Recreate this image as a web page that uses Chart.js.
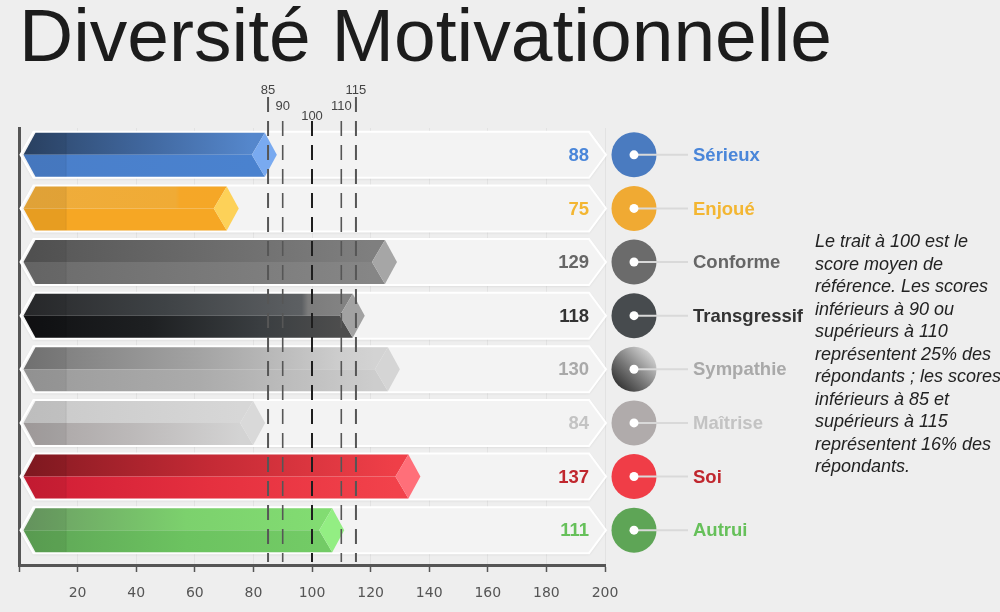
<!DOCTYPE html>
<html>
<head>
<meta charset="utf-8">
<script src="https://cdn.jsdelivr.net/npm/chart.js@4.4.1/dist/chart.umd.min.js"></script>
<style>
  html, body { margin: 0; padding: 0; background: #eeeeee; width: 1000px; height: 612px; overflow: hidden; }
  #wrap { position: relative; width: 1000px; height: 612px; }
  #chart { position: absolute; left: 0; top: 0; }
  h1 { position: absolute; left: 19px; top: -2px; margin: 0; font: 400 75px/75px "Liberation Sans", Arial, sans-serif; color: #1c1c1c; white-space: nowrap; }
  #note { position: absolute; left: 815px; top: 230px; font: italic 18px/22.5px "Liberation Sans", Arial, sans-serif; color: #222; white-space: nowrap; }
</style>
</head>
<body>
<div id="wrap">
  <canvas id="chart" width="1000" height="612"></canvas>
  <h1>Diversité Motivationnelle</h1>
  <div id="note">Le trait à 100 est le<br>score moyen de<br>référence. Les scores<br>inférieurs à 90 ou<br>supérieurs à 110<br>représentent 25% des<br>répondants ; les scores<br>inférieurs à 85 et<br>supérieurs à 115<br>représentent 16% des<br>répondants.</div>
</div>
<script>
const categories = ['Sérieux', 'Enjoué', 'Conforme', 'Transgressif', 'Sympathie', 'Maîtrise', 'Soi', 'Autrui'];
const scores = [88, 75, 129, 118, 130, 84, 137, 111];
const refLines = [85, 90, 100, 110, 115];
const axisMin = 0, axisMax = 200, axisStep = 20;

// look of each prism: top face, bottom face, end cap, text and disc colour
const looks = [
  { top: [[0, '#2c4567'], [0.5, '#3f659b'], [1, '#5587cc']], bottom: [[0, '#4a7fca'], [1, '#4a82cf']], cap: '#79aaf0', text: '#4a86d9', disc: '#4a7bc0' },
  { top: [[0, '#efad3c'], [0.8, '#f0ab35'], [0.82, '#f5a728'], [1, '#f5a727']], bottom: [[0, '#f6a724'], [1, '#f6a724']], cap: '#fdd158', text: '#f3b632', disc: '#f0aa33' },
  { top: [[0, '#555555'], [1, '#7f7f7f']], bottom: [[0, '#6b6b6b'], [1, '#868686']], cap: '#a6a6a6', text: '#666666', disc: '#6b6b6b' },
  { top: [[0, '#292a2c'], [0.45, '#3f4346'], [0.88, '#5d6063'], [0.9, '#7c7c7c'], [1, '#828282']], bottom: [[0, '#101113'], [0.4, '#1e2022'], [0.75, '#3a3e41'], [1, '#4d4d4d']], cap: '#a2a2a2', text: '#333333', disc: '#474b4e' },
  { top: [[0, '#787878'], [0.5, '#a3a3a3'], [0.9, '#cdcdcd'], [1, '#d3d3d3']], bottom: [[0, '#9b9b9b'], [0.5, '#ababab'], [1, '#cdcdcd']], cap: '#d5d5d5', text: '#a9a9a9', disc: 'shade' },
  { top: [[0, '#c9c9c9'], [1, '#d7d7d7']], bottom: [[0, '#a7a2a2'], [0.5, '#bcb9b9'], [1, '#d3d3d3']], cap: '#d9d9d9', text: '#c3c3c3', disc: '#b0abab' },
  { top: [[0, '#861a22'], [0.5, '#c42a35'], [1, '#ef3f48']], bottom: [[0, '#cf1c35'], [0.5, '#e5303f'], [1, '#f2424b']], cap: '#ff6f79', text: '#c0272e', disc: '#f03d47' },
  { top: [[0, '#6b9c63'], [0.55, '#7cd16d'], [1, '#82dc72']], bottom: [[0, '#5ea456'], [0.55, '#6cc360'], [1, '#73cb66']], cap: '#93ee83', text: '#66c05a', disc: '#5ea556' }
];

function grad(ctx, x0, x1, stops) {
  const g = ctx.createLinearGradient(x0, 0, x1, 0);
  stops.forEach(([o, c]) => g.addColorStop(o, c));
  return g;
}

function poly(ctx, pts) {
  ctx.beginPath();
  ctx.moveTo(pts[0][0], pts[0][1]);
  for (let i = 1; i < pts.length; i++) ctx.lineTo(pts[i][0], pts[i][1]);
  ctx.closePath();
}

const prismPlugin = {
  id: 'prisms',
  beforeDatasetsDraw(chart) {
    const ctx = chart.ctx;
    const area = chart.chartArea;
    const meta = chart.getDatasetMeta(0);
    ctx.save();
    // background arrows behind each bar
    meta.data.forEach(el => {
      const yc = el.y, hh = 23;
      const l = el.base + 1, r = area.right + 1;
      ctx.shadowColor = 'rgba(0,0,0,0.12)';
      ctx.shadowBlur = 3;
      ctx.shadowOffsetY = 1;
      poly(ctx, [[l, yc], [l + 13, yc - hh], [r - 17, yc - hh], [r, yc], [r - 17, yc + hh], [l + 13, yc + hh]]);
      ctx.fillStyle = '#f3f3f3';
      ctx.fill();
      ctx.shadowColor = 'transparent';
      ctx.lineWidth = 2;
      ctx.strokeStyle = '#ffffff';
      ctx.stroke();
    });
    // the prisms themselves
    meta.data.forEach((el, i) => {
      const lk = looks[i];
      const yc = el.y, hh = el.height / 2;
      const L = el.base + 4, t = el.x;
      const sl = 12;
      poly(ctx, [[L, yc], [L + sl, yc - hh], [t - sl, yc - hh], [t - 25, yc]]);
      ctx.fillStyle = grad(ctx, L, t - 25, lk.top);
      ctx.fill();
      poly(ctx, [[L, yc], [t - 25, yc], [t - sl, yc + hh], [L + sl, yc + hh]]);
      ctx.fillStyle = grad(ctx, L, t - 25, lk.bottom);
      ctx.fill();
      poly(ctx, [[t - sl, yc - hh], [t, yc], [t - sl, yc + hh], [t - 25, yc]]);
      ctx.fillStyle = lk.cap;
      ctx.fill();
      // darker section at the left end
      ctx.save();
      poly(ctx, [[L, yc], [L + sl, yc - hh], [t - sl, yc - hh], [t, yc], [t - sl, yc + hh], [L + sl, yc + hh]]);
      ctx.clip();
      ctx.fillStyle = 'rgba(0,0,0,0.06)';
      ctx.fillRect(L, yc - hh, el.base + 46 - L, hh * 2);
      ctx.fillStyle = 'rgba(0,0,0,0.10)';
      ctx.fillRect(el.base + 46, yc - hh, 1, hh * 2);
      ctx.restore();
    });
    ctx.restore();
  },
  afterDatasetsDraw(chart) {
    const ctx = chart.ctx;
    const area = chart.chartArea;
    const xs = chart.scales.x;
    const meta = chart.getDatasetMeta(0);
    ctx.save();

    // reference lines
    refLines.forEach(v => {
      const x = xs.getPixelForValue(v);
      const outer = v === 85 || v === 115;
      const mid = v === 100;
      ctx.beginPath();
      ctx.setLineDash([15, 9]);
      ctx.lineDashOffset = 0;
      ctx.moveTo(x, outer ? 97 : 121);
      ctx.lineTo(x, area.bottom - 3);
      ctx.lineWidth = mid ? 2 : (outer ? 2 : 1.6);
      ctx.strokeStyle = mid ? '#1e1e1e' : '#565656';
      ctx.stroke();
      ctx.setLineDash([]);
      ctx.font = '13px "Liberation Sans", Arial, sans-serif';
      ctx.fillStyle = '#444';
      ctx.textAlign = 'center';
      ctx.textBaseline = 'middle';
      ctx.fillText(String(v), x, outer ? 90 : (mid ? 116 : 106));
    });

    // values, discs and names
    meta.data.forEach((el, i) => {
      const lk = looks[i];
      const yc = el.y;
      ctx.font = 'bold 18.5px "Liberation Sans", Arial, sans-serif';
      ctx.textBaseline = 'middle';
      ctx.textAlign = 'right';
      ctx.fillStyle = lk.text;
      ctx.fillText(String(scores[i]), area.right - 16, yc + 1);

      const cx = area.right + 29, r = 22.5;
      ctx.beginPath();
      ctx.arc(cx, yc, r, 0, Math.PI * 2);
      if (lk.disc === 'shade') {
        const g = ctx.createLinearGradient(cx + r * 0.7, yc - r * 0.7, cx - r * 0.7, yc + r * 0.7);
        g.addColorStop(0, '#cfcfcf');
        g.addColorStop(0.55, '#7a7a7a');
        g.addColorStop(1, '#3a3a3a');
        ctx.fillStyle = g;
      } else {
        ctx.fillStyle = lk.disc;
      }
      ctx.fill();
      ctx.beginPath();
      ctx.moveTo(cx, yc);
      ctx.lineTo(cx + 54, yc);
      ctx.lineWidth = 2;
      ctx.strokeStyle = '#d9d9d9';
      ctx.stroke();
      ctx.beginPath();
      ctx.arc(cx, yc, 4.5, 0, Math.PI * 2);
      ctx.fillStyle = '#ffffff';
      ctx.fill();

      ctx.textAlign = 'left';
      ctx.fillStyle = lk.text;
      ctx.fillText(categories[i], cx + 59, yc + 1);
    });
    ctx.restore();
  }
};

new Chart(document.getElementById('chart'), {
  type: 'bar',
  data: {
    datasets: [{
      label: 'Score',
      data: scores.map((v, i) => ({ x: v, y: i })),
      backgroundColor: 'rgba(0,0,0,0)',
      borderWidth: 0,
      barThickness: 44
    }]
  },
  options: {
    indexAxis: 'y',
    responsive: false,
    animation: false,
    layout: { padding: { top: 128, right: 395, left: 0, bottom: 0 } },
    plugins: { legend: { display: false }, tooltip: { enabled: false } },
    scales: {
      x: {
        type: 'linear',
        min: axisMin,
        max: axisMax,
        afterFit: s => { s.height = 47; },
        ticks: {
          stepSize: axisStep,
          maxRotation: 0,
          padding: 13,
          color: '#555',
          font: { family: '"DejaVu Sans", sans-serif', size: 14 },
          callback: v => (v === 0 ? '' : v)
        },
        grid: { color: '#e2e2e2', lineWidth: 1, tickLength: 7, tickColor: '#555', tickWidth: 1.5 },
        border: { color: '#555', width: 3 }
      },
      y: {
        type: 'linear',
        reverse: true,
        offset: false,
        min: -0.5,
        max: 7.65,
        afterFit: s => { s.width = 19; },
        ticks: { display: false },
        grid: { display: false, offset: false },
        border: { color: '#555', width: 3 }
      }
    }
  },
  plugins: [prismPlugin]
});
</script>
</body>
</html>
